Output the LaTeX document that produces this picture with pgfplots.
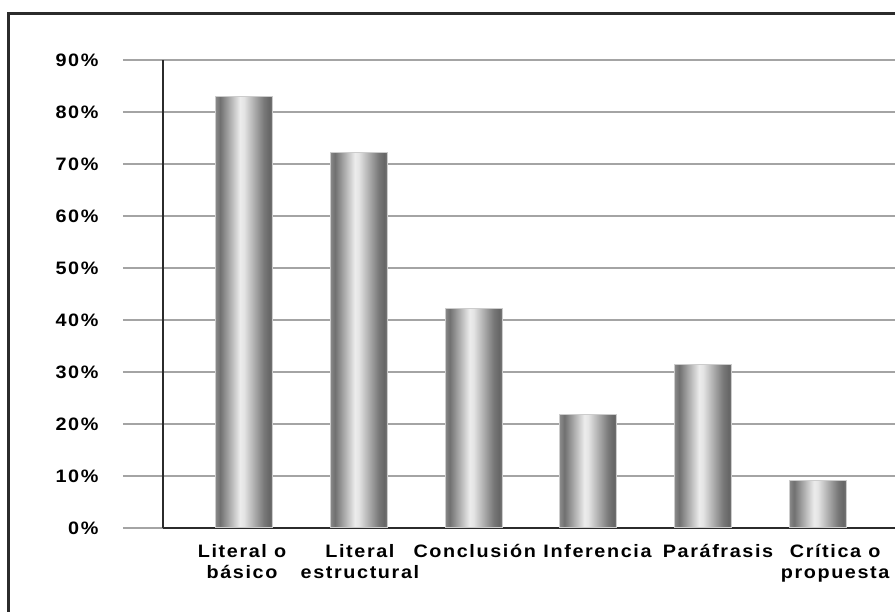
\documentclass[border=0pt]{standalone}
\usepackage{pgfplots}
\usepackage{pgfplotstable}
\pgfplotsset{compat=1.18}
\usepackage{fontspec}
\newfontfamily\lblfont{Liberation Sans}[FakeStretch=1.1,LetterSpace=9]
\definecolor{framec}{HTML}{2B2B2B}
\definecolor{gridc}{HTML}{A4A4A4}
\definecolor{barA}{HTML}{8A8A8A}
\definecolor{barB}{HTML}{707070}
\definecolor{barC}{HTML}{ECECEC}
\definecolor{barD}{HTML}{E4E4E4}
\definecolor{barE}{HTML}{787878}
\definecolor{barF}{HTML}{666666}
\definecolor{barG}{HTML}{7A7A7A}
\pgfdeclarehorizontalshading{barshade}{100bp}{
  color(0bp)=(barA); color(25bp)=(barA); color(29bp)=(barB);
  color(46.5bp)=(barC); color(50bp)=(barD); color(67.5bp)=(barE);
  color(72.5bp)=(barF); color(75bp)=(barG); color(100bp)=(barG)}
\newcommand{\lbl}{\lblfont\bfseries\fontsize{18}{21}\selectfont}

% share of answers per comprehension level
\pgfplotstableread{
x y
0 82.9
1 72.3
2 42.3
3 21.9
4 31.5
5 9.2
}\levels

\begin{document}
\begin{tikzpicture}

% outer frame (only top and left edges visible)
\draw[line width=3pt, color=framec] (8pt,-10pt) -- (8pt,598pt) -- (910pt,598pt);

\begin{axis}[
  at={(163pt,84pt)},
  anchor=south west,
  scale only axis,
  width=741pt,
  height=468pt,
  set layers,
  xmin=-0.7056, xmax=5.75,
  ymin=0, ymax=90,
  enlargelimits=false,
  axis x line*=bottom,
  axis y line*=left,
  axis line style={-, line width=2.8pt, color=framec, on layer=axis foreground},
  ytick={0,10,...,90},
  yticklabels={0\%,10\%,20\%,30\%,40\%,50\%,60\%,70\%,80\%,90\%},
  yticklabel style={font=\lbl, anchor=east, xshift=-21pt},
  xtick={-0.017,1.01,2.01,3.08,4.13,5.15},
  xticklabels={{Literal o\\básico},{Literal\\estructural},Conclusión,Inferencia,Paráfrasis,{Crítica o\\propuesta}},
  xticklabel style={font=\lbl, align=center, anchor=north, yshift=27pt},
  xtick style={draw=none},
  ytick style={line width=1.8pt, color=gridc},
  tick align=outside,
  major tick length=40pt,
  ymajorgrids,
  grid style={line width=1.8pt, color=gridc},
  ]

% one plot per bar so that each bar gets its own cylinder shading
\pgfplotsinvokeforeach{0,...,5}{
  \addplot[ybar, bar width=57pt, bar shift=0pt, draw=gray!40, line width=1pt,
    shade, shading=barshade, restrict x to domain=#1:#1] table[x=x, y=y] {\levels};
}

\end{axis}

\pgfresetboundingbox
\useasboundingbox (0,0) rectangle (895pt,612pt);
\end{tikzpicture}
\end{document}
